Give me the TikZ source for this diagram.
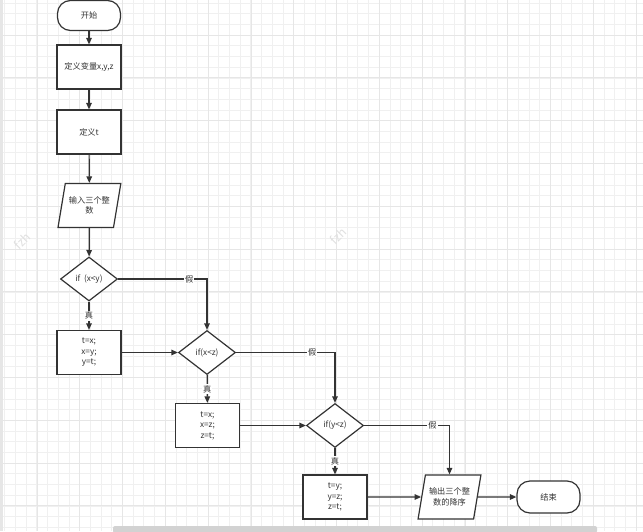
\documentclass[tikz,border=0pt]{standalone}
\usepackage{fontspec}
\setmainfont{Noto Sans CJK SC}
\usetikzlibrary{arrows.meta,shapes.geometric}
\definecolor{flowline}{HTML}{333333}
\definecolor{gridminor}{HTML}{F0F0F0}
\definecolor{gridmajor}{HTML}{E6E6E6}
\definecolor{markgray}{HTML}{E0E0E0}

\begin{document}
\begin{tikzpicture}[x=1pt,y=-1pt,
    every node/.style={font=\fontsize{8.2}{10.5}\selectfont,align=center,text=flowline},
    startstop/.style={draw=flowline,line width=1.2pt,rounded corners=13pt,fill=white,
                      minimum width=63pt,minimum height=30pt},
    proc/.style={draw=flowline,line width=1.2pt,fill=white,
                 minimum width=64pt,minimum height=44pt},
    io/.style={trapezium,trapezium left angle=72,trapezium right angle=108,
               trapezium stretches=true,draw=flowline,line width=1.2pt,fill=white,
               minimum width=63pt,minimum height=44pt,inner sep=1pt},
    decision/.style={diamond,draw=flowline,line width=1.2pt,fill=white,
                     minimum width=57pt,minimum height=44pt,inner sep=1pt},
    arr/.style={-{Triangle[length=6.5pt,width=5.5pt]},draw=flowline,line width=1.2pt},
    tag/.style={fill=white,inner sep=1pt}
]
\useasboundingbox (0,0) rectangle (643,531);
% grid paper
\fill[white] (0,0) rectangle (643,531);
\foreach \i in {0,...,60}
  \draw[gridminor,line width=0.8pt] ({4.7+\i*10.7},0) -- ({4.7+\i*10.7},531);
\foreach \j in {0,...,50}
  \draw[gridminor,line width=0.8pt] (0,{3+\j*10.7}) -- (643,{3+\j*10.7});
\foreach \i in {0,...,14}
  \draw[gridmajor,line width=0.8pt] ({37+\i*42.8},0) -- ({37+\i*42.8},531);
\foreach \j in {0,...,12}
  \draw[gridmajor,line width=0.8pt] (0,{35+\j*42.8}) -- (643,{35+\j*42.8});
\fill[gridmajor] (0,0) rectangle (3,531);
\node[text=markgray,rotate=45,font=\fontsize{12}{14}\selectfont] (mark1) at (22,241) {fzh};
\node[text=markgray,rotate=45,font=\fontsize{12}{14}\selectfont] (mark2) at (338,236) {fzh};
\fill[gray!35,rounded corners=2pt] (113,526) rectangle (597,533);

% main column
\node[startstop] (start) at (89,15.5) {开始};
\node[proc] (defxyz) at (89,67) {定义变量x,y,z};
\node[proc] (deft) at (89,132) {定义t};
\node[io] (input) at (89.4,205.5) {输入三个整\\数};
\node[decision] (ifxy) at (89,279) {if\ \ (x<y)};
\node[proc] (swapxy) at (89,352.5) {t=x;\\x=y;\\y=t;};

% second column
\node[decision] (ifxz) at (207,352.5) {if(x<z)};
\node[proc] (swapxz) at (207.5,425.5) {t=x;\\x=z;\\z=t;};

% third column
\node[decision] (ifyz) at (335,425.5) {if(y<z)};
\node[proc] (swapyz) at (335,497) {t=y;\\y=z;\\z=t;};

% output and end
\node[io] (output) at (449.5,497) {输出三个整\\数的降序};
\node[startstop,minimum height=32pt] (stop) at (548.5,497) {结束};

\draw[arr] (start) -- (defxyz);
\draw[arr] (defxyz) -- (deft);
\draw[arr] (deft) -- (input);
\draw[arr] (input) -- (ifxy);
\draw[arr] (ifxy) -- node[tag]{真} (swapxy);
\draw[arr] (ifxy.east) -| node[tag,pos=0.4]{假} (ifxz.north);
\draw[arr] (swapxy) -- (ifxz);
\draw[arr] (ifxz) -- node[tag]{真} (swapxz);
\draw[arr] (ifxz.east) -| node[tag,pos=0.385]{假} (ifyz.north);
\draw[arr] (swapxz) -- (ifyz);
\draw[arr] (ifyz) -- node[tag]{真} (swapyz);
\draw[arr] (ifyz.east) -| node[tag,pos=0.4]{假} (output.north);
\draw[arr] (swapyz) -- (output);
\draw[arr] (output) -- (stop);
\end{tikzpicture}
\end{document}
